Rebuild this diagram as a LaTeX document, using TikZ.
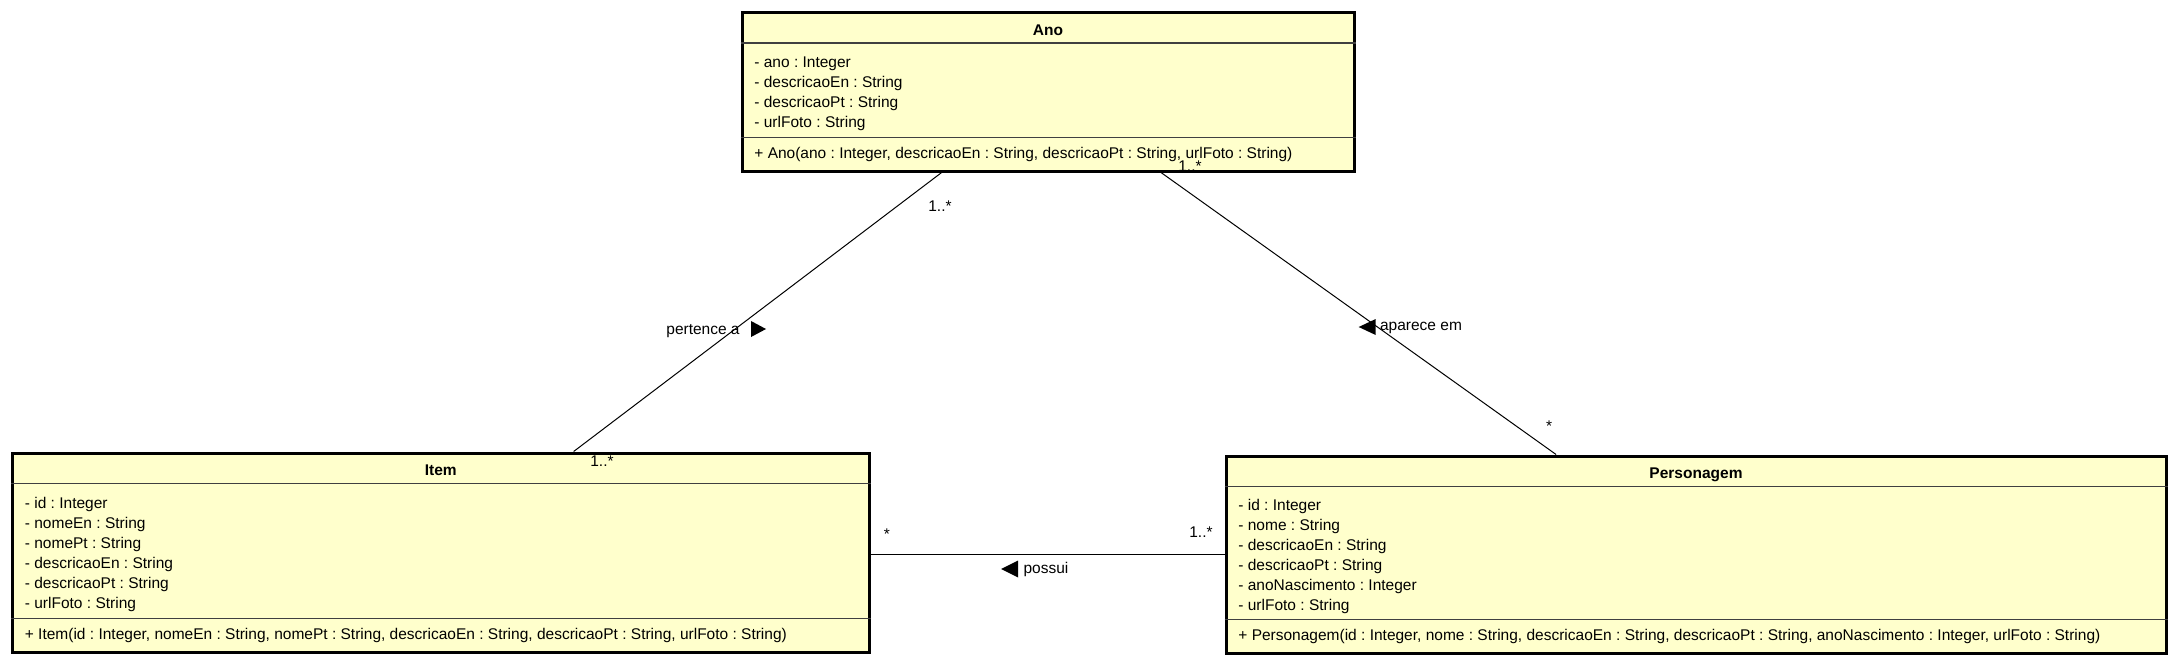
\documentclass[tikz,border=0pt]{standalone}
\usepackage{fontspec}
\setmainfont{Liberation Sans}
\usetikzlibrary{calc,positioning}
\frenchspacing
\definecolor{classfill}{RGB}{255,255,204}
\tikzstyle{classbox} = [rectangle, draw=black, line width=1.5pt, fill=classfill, inner sep=0pt]
\tikzstyle{ctitle} = [anchor=base, inner sep=0pt, font=\fontsize{7.75}{10}\selectfont\bfseries]
\tikzstyle{members} = [anchor=north west, align=left, inner sep=0pt, font=\fontsize{7.75}{10}\selectfont]
\tikzstyle{oper} = [anchor=base west, inner sep=0pt, font=\fontsize{7.75}{10}\selectfont]
\tikzstyle{divider} = [line width=0.6pt, draw=black!75]
\tikzstyle{assoc} = [line width=0.5pt]
\tikzstyle{mult} = [inner sep=0pt, font=\fontsize{7.75}{10}\selectfont]

\begin{document}
\begin{tikzpicture}[x=0.5pt, y=-0.5pt]
\useasboundingbox[fill=white] (0,0) rectangle (2180,666);

\node (ano) [classbox, minimum width=306pt, minimum height=79.25pt] at (1048,91.75) {};
\node (item) [classbox, minimum width=428.25pt, minimum height=99.5pt] at (440.75,552.5) {};
\node (pers) [classbox, minimum width=470pt, minimum height=98.5pt] at (1696,554.5) {};

\draw [divider] ([yshift=-16pt]ano.north west) -- ([yshift=-16pt]ano.north east);
\draw [divider] ([yshift=17.5pt]ano.south west) -- ([yshift=17.5pt]ano.south east);
\draw [divider] ([yshift=-16pt]item.north west) -- ([yshift=-16pt]item.north east);
\draw [divider] ([yshift=17.5pt]item.south west) -- ([yshift=17.5pt]item.south east);
\draw [divider] ([yshift=-16pt]pers.north west) -- ([yshift=-16pt]pers.north east);
\draw [divider] ([yshift=17.5pt]pers.south west) -- ([yshift=17.5pt]pers.south east);

\node (anoT) [ctitle] at ([yshift=-12.2pt]ano.north) {Ano};
\node (anoA) [members] at ([xshift=6.75pt, yshift=-22.6pt]ano.north west) {- ano : Integer\\- descricaoEn : String\\- descricaoPt : String\\- urlFoto : String};
\node (anoO) [oper] at ([xshift=6.75pt, yshift=7pt]ano.south west) {+ Ano(ano : Integer, descricaoEn : String, descricaoPt : String, urlFoto : String)};

\node (itemT) [ctitle] at ([yshift=-12.2pt]item.north) {Item};
\node (itemA) [members] at ([xshift=6.75pt, yshift=-22.6pt]item.north west) {- id : Integer\\- nomeEn : String\\- nomePt : String\\- descricaoEn : String\\- descricaoPt : String\\- urlFoto : String};
\node (itemO) [oper] at ([xshift=6.75pt, yshift=7pt]item.south west) {+ Item(id : Integer, nomeEn : String, nomePt : String, descricaoEn : String, descricaoPt : String, urlFoto : String)};

\node (persT) [ctitle] at ([yshift=-12.2pt]pers.north) {Personagem};
\node (persA) [members] at ([xshift=6.75pt, yshift=-22.2pt]pers.north west) {- id : Integer\\- nome : String\\- descricaoEn : String\\- descricaoPt : String\\- anoNascimento : Integer\\- urlFoto : String};
\node (persO) [oper] at ([xshift=6.75pt, yshift=7pt]pers.south west) {+ Personagem(id : Integer, nome : String, descricaoEn : String, descricaoPt : String, anoNascimento : Integer, urlFoto : String)};

\draw [assoc] (ano) -- (item);
\draw [assoc] (ano) -- (pers);
\draw [assoc] (item.east |- pers.west) -- (pers.west);

\node (mAnoI) [mult] at (940,206) {1..*};
\node (mItemA) [mult] at (602,461) {1..*};
\node (pert) [mult] at (703,331) {pertence a};
\fill ($(pert.east)+(11,-10)$) -- ++(15,8) -- ++(-15,8) -- cycle;

\node (mAnoP) [mult] at (1190,166) {1..*};
\node (mPersA) [mult] at (1549,426) {*};
\node (apar) [mult] at (1421,328) {aparece em};
\fill ($(apar.west)+(-4,-9)$) -- ++(-17,8) -- ++(17,8) -- cycle;

\node (mItemP) [mult] at (887,534) {*};
\node (mPersI) [mult] at (1201,532) {1..*};
\node (poss) [mult] at (1046,569) {possui};
\fill ($(poss.west)+(-5,-8.5)$) -- ++(-17,8.5) -- ++(17,8.5) -- cycle;
\end{tikzpicture}
\end{document}
